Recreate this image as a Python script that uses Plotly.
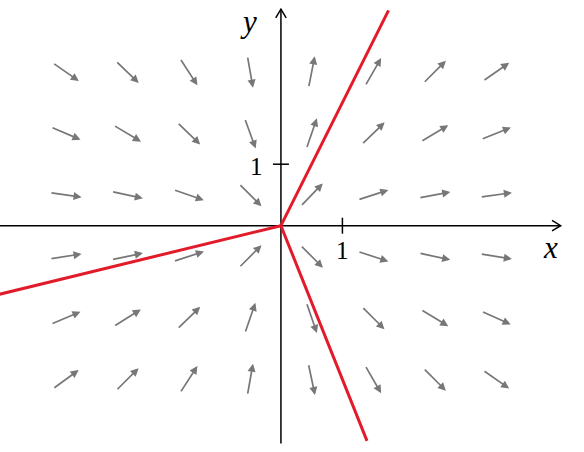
import math
import plotly.graph_objects as go

# grid of direction-field sample points
grid_x = [-3.5, -2.5, -1.5, -0.5, 0.5, 1.5, 2.5, 3.5]
grid_y = [2.5, 1.5, 0.5, -0.5, -1.5, -2.5]
# arrow angles (degrees), one row per grid_y
angle_rows = [
    [-35, -44, -57, -80, 79, 60, 45, 35],
    [-23, -31, -44, -70, 71, 44, 31, 22],
    [-8, -12, -19, -45, 46, 18, 11, 8],
    [9, 12, 18, 45, -45, -18, -12, -9],
    [23, 32, 44, 71, -71, -45, -31, -24],
    [36, 45, 57, 80, -78, -60, -45, -35],
]
arrow_len = 0.52

# red invariant lines: from origin to these end points
red_end_x = [1.75, 1.40, -4.6]
red_end_y = [3.5, -3.5, -1.12]

# axes extents
x_min, x_max = -4.6, 4.55
y_min, y_max = -3.54, 3.52
tick_labels = ["1", "1"]

fig = go.Figure()

# axes lines
fig.add_trace(go.Scatter(x=[x_min, x_max], y=[0, 0], mode="lines",
                         line=dict(color="black", width=1.5), hoverinfo="skip"))
fig.add_trace(go.Scatter(x=[0, 0], y=[y_min, y_max], mode="lines",
                         line=dict(color="black", width=1.5), hoverinfo="skip"))
# chevron arrowheads on axes
hl, hw = 0.14, 0.085
fig.add_trace(go.Scatter(x=[x_max - hl, x_max, x_max - hl], y=[hw, 0, -hw], mode="lines",
                         line=dict(color="black", width=1.5), hoverinfo="skip"))
fig.add_trace(go.Scatter(x=[-hw, 0, hw], y=[y_max - hl, y_max, y_max - hl], mode="lines",
                         line=dict(color="black", width=1.5), hoverinfo="skip"))
# tick marks
tk = 0.13
fig.add_trace(go.Scatter(x=[1, 1], y=[-tk, tk], mode="lines",
                         line=dict(color="black", width=1.5), hoverinfo="skip"))
fig.add_trace(go.Scatter(x=[-tk, tk], y=[1, 1], mode="lines",
                         line=dict(color="black", width=1.5), hoverinfo="skip"))

# red lines
for ex, ey in zip(red_end_x, red_end_y):
    fig.add_trace(go.Scatter(x=[0, ex], y=[0, ey], mode="lines",
                             line=dict(color="#e21b2b", width=3), hoverinfo="skip"))

annotations = []
for gy, row in zip(grid_y, angle_rows):
    for gx, ang in zip(grid_x, row):
        a = math.radians(ang)
        dx, dy = math.cos(a) * arrow_len / 2, math.sin(a) * arrow_len / 2
        annotations.append(dict(
            x=gx + dx, y=gy + dy, ax=gx - dx, ay=gy - dy,
            xref="x", yref="y", axref="x", ayref="y",
            text="", showarrow=True, arrowhead=2, arrowsize=0.95,
            arrowwidth=1.7, arrowcolor="#777777", standoff=0, startstandoff=0,
        ))

serif_i = dict(family="Liberation Serif", size=31, color="black")
serif = dict(family="Liberation Serif", size=25, color="black")
annotations.append(dict(x=4.38, y=-0.36, text="<i>x</i>", showarrow=False,
                        font=serif_i, xanchor="center", yanchor="middle"))
annotations.append(dict(x=-0.52, y=3.32, text="<i>y</i>", showarrow=False,
                        font=serif_i, xanchor="center", yanchor="middle"))
annotations.append(dict(x=1.0, y=-0.4, text=tick_labels[0], showarrow=False,
                        font=serif, xanchor="center", yanchor="middle"))
annotations.append(dict(x=-0.4, y=0.97, text=tick_labels[1], showarrow=False,
                        font=serif, xanchor="center", yanchor="middle"))

fig.update_layout(
    width=584, height=452, margin=dict(l=0, r=0, t=0, b=0),
    paper_bgcolor="white", plot_bgcolor="white", showlegend=False,
    xaxis=dict(range=[-4.57, 4.93], visible=False, fixedrange=True),
    yaxis=dict(range=[-3.68, 3.67], visible=False, fixedrange=True),
    annotations=annotations,
)

fig.write_html("out.html", config={"displayModeBar": False},
               post_script="document.body.style.margin='0';")
